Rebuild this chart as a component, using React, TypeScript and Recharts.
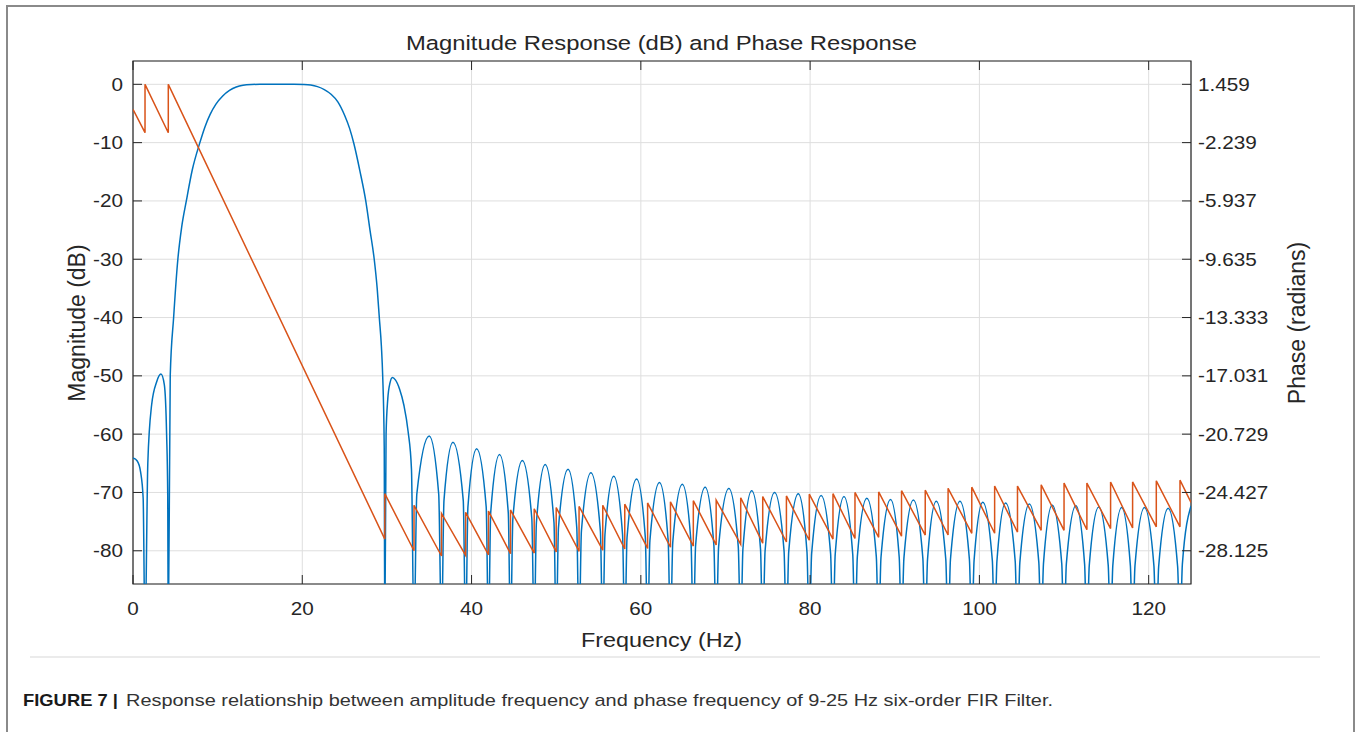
import { LineChart, Line, XAxis, YAxis, CartesianGrid, ReferenceArea } from "recharts";

// frequency axis (Hz)
const freqTicks = [0, 20, 40, 60, 80, 100, 120];
// magnitude axis (dB)
const magTicks = [-80, -70, -60, -50, -40, -30, -20, -10, 0];
// phase axis (radians), lined up with the dB grid
const phaseTicks = [1.459, -2.239, -5.937, -9.635, -13.333, -17.031, -20.729, -24.427, -28.125];

// [Hz, dB]; nulls go below the axis and get clipped
const magnitude: [number, number][] = [
  [0, -64.1], [0.5, -64.6], [0.9, -66.5], [1.2, -71], [1.42, -95],
  [1.75, -65], [2.2, -55], [2.8, -51], [3.3, -49.7], [3.7, -51.5], [3.97, -60], [4.1, -70], [4.17, -95],
  [4.4, -50], [4.8, -40], [5.3, -30], [5.75, -24.5], [6.3, -20], [7.0, -14.7], [7.9, -10], [8.5, -7.3],
  [9.1, -5.2], [9.8, -3.4], [10.6, -2.0], [11.4, -1.05], [12.2, -0.45], [13.0, -0.15], [14.0, -0.03],
  [15, 0], [17, 0], [19, 0], [20.2, -0.03], [21.0, -0.12], [21.8, -0.4], [22.6, -0.9], [23.4, -1.7],
  [24.2, -3.0], [25.0, -5.3], [25.6, -7.6], [26.1, -10.2], [26.8, -14.8], [27.5, -20], [28.0, -25],
  [28.5, -30], [28.85, -35], [29.1, -40], [29.35, -45], [29.5, -50], [29.68, -62], [29.75, -95],
  [29.9, -60], [30.1, -54], [30.35, -51.3], [30.65, -50.3], [31.0, -50.7], [31.5, -52.3], [32.0, -55], [32.5, -59.5], [32.9, -66], [33.2, -95],
  [33.53, -70.3], [35.0, -60.3], [36.12, -70.3], [36.45, -95],
  [36.74, -71.4], [37.8, -61.4], [39.02, -71.4], [39.3, -95],
  [39.57, -72.5], [40.6, -62.5], [41.73, -72.5], [42.0, -95],
  [42.26, -73.5], [43.3, -63.5], [44.34, -73.5], [44.6, -95],
  [44.88, -74.5], [46.0, -64.5], [47.12, -74.5], [47.4, -95],
  [47.66, -75.2], [48.7, -65.2], [49.74, -75.2], [50.0, -95],
  [50.27, -76.0], [51.4, -66.0], [52.43, -76.0], [52.7, -95],
  [52.98, -76.6], [54.1, -66.6], [55.22, -76.6], [55.5, -95],
  [55.76, -77.2], [56.8, -67.2], [57.84, -77.2], [58.1, -95],
  [58.37, -77.7], [59.5, -67.7], [60.53, -77.7], [60.8, -95],
  [61.07, -78.3], [62.2, -68.3], [63.23, -78.3], [63.5, -95],
  [63.77, -78.6], [64.9, -68.6], [65.93, -78.6], [66.2, -95],
  [66.47, -79.1], [67.6, -69.1], [68.63, -79.1], [68.9, -95],
  [69.19, -79.3], [70.4, -69.3], [71.51, -79.3], [71.8, -95],
  [72.06, -79.7], [73.1, -69.7], [74.14, -79.7], [74.4, -95],
  [74.68, -80.0], [75.8, -70.0], [76.92, -80.0], [77.2, -95],
  [77.47, -80.2], [78.6, -70.2], [79.63, -80.2], [79.9, -95],
  [80.18, -80.5], [81.3, -70.5], [82.42, -80.5], [82.7, -95],
  [82.96, -80.7], [84.0, -70.7], [85.04, -80.7], [85.3, -95],
  [85.58, -81.0], [86.7, -71.0], [87.82, -81.0], [88.1, -95],
  [88.37, -81.2], [89.5, -71.2], [90.53, -81.2], [90.8, -95],
  [91.08, -81.3], [92.2, -71.3], [93.32, -81.3], [93.6, -95],
  [93.87, -81.5], [94.9, -71.5], [96.03, -81.5], [96.3, -95],
  [96.58, -81.5], [97.7, -71.5], [98.82, -81.5], [99.1, -95],
  [99.37, -81.7], [100.4, -71.7], [101.53, -81.7], [101.8, -95],
  [102.07, -81.8], [103.1, -71.8], [104.23, -81.8], [104.5, -95],
  [104.78, -82.0], [105.9, -72.0], [107.02, -82.0], [107.3, -95],
  [107.57, -82.2], [108.6, -72.2], [109.73, -82.2], [110.0, -95],
  [110.27, -82.3], [111.4, -72.3], [112.43, -82.3], [112.7, -95],
  [112.98, -82.5], [114.1, -72.5], [115.22, -82.5], [115.5, -95],
  [115.76, -82.6], [116.8, -72.6], [117.84, -82.6], [118.1, -95],
  [118.38, -82.6], [119.5, -72.6], [120.62, -82.6], [120.9, -95],
  [121.18, -82.7], [122.3, -72.7], [123.42, -82.7], [123.7, -95],
  [123.98, -82.3], [125, -72.3],
];

// [Hz, rad] for the orange phase line, jumps are two points at one frequency
const phase: [number, number][] = [
  [0, -0.131], [1.42, -1.61], [1.42, 1.459], [4.17, -1.61], [4.17, 1.459],
  [29.75, -27.385], [29.75, -24.501], [33.2, -28.125], [33.2, -25.241],
  [36.45, -28.458], [36.45, -25.758], [39.3, -28.421], [39.3, -25.684],
  [42.0, -28.384], [42.0, -25.61], [44.6, -28.31], [44.6, -25.536],
  [47.4, -28.273], [47.4, -25.462], [50.0, -28.199], [50.0, -25.388],
  [52.7, -28.162], [52.7, -25.315], [55.5, -28.088], [55.5, -25.241],
  [58.1, -28.014], [58.1, -25.167], [60.8, -27.977], [60.8, -25.093],
  [63.5, -27.903], [63.5, -25.019], [66.2, -27.829], [66.2, -24.945],
  [68.9, -27.755], [68.9, -24.908], [71.8, -27.718], [71.8, -24.76],
  [74.4, -27.644], [74.4, -24.686], [77.2, -27.57], [77.2, -24.649],
  [79.9, -27.459], [79.9, -24.538], [82.7, -27.385], [82.7, -24.501],
  [85.3, -27.348], [85.3, -24.427], [88.1, -27.274], [88.1, -24.39],
  [90.8, -27.201], [90.8, -24.316], [93.6, -27.127], [93.6, -24.279],
  [96.3, -27.127], [96.3, -24.168], [99.1, -27.016], [99.1, -24.094],
  [101.8, -27.016], [101.8, -24.02], [104.5, -26.942], [104.5, -24.02],
  [107.3, -26.831], [107.3, -23.946], [110.0, -26.831], [110.0, -23.835],
  [112.7, -26.794], [112.7, -23.835], [115.5, -26.72], [115.5, -23.761],
  [118.1, -26.683], [118.1, -23.761], [120.9, -26.609], [120.9, -23.687],
  [123.7, -26.609], [123.7, -23.65], [125, -25.056],
];

const magData = magnitude.map(([f, db]) => ({ f, db }));
const phaseData = phase.map(([f, rad]) => ({ f, rad }));

const PLOT = { left: 133, right: 1191, top: 61, bottom: 584 };
const INK = "#262626";
const FONT = "'Liberation Sans', Arial, Helvetica, sans-serif";

const XTick = (props: any) => {
  const { x, payload } = props;
  return (
    <g>
      <line x1={x} x2={x} y1={PLOT.bottom} y2={PLOT.bottom - 9} stroke={INK} />
      <line x1={x} x2={x} y1={PLOT.top} y2={PLOT.top + 9} stroke={INK} />
      <text
        transform={`translate(${x},615) scale(1.15,1)`}
        textAnchor="middle"
        fontSize={18}
        fontFamily={FONT}
        fill={INK}
      >
        {payload.value}
      </text>
    </g>
  );
};

const LeftTick = (props: any) => {
  const { y, payload } = props;
  return (
    <g>
      <line x1={PLOT.left} x2={PLOT.left + 9} y1={y} y2={y} stroke={INK} />
      <text
        transform={`translate(123,${y + 6.5}) scale(1.15,1)`}
        textAnchor="end"
        fontSize={18}
        fontFamily={FONT}
        fill={INK}
      >
        {payload.value}
      </text>
    </g>
  );
};

const RightTick = (props: any) => {
  const { y, payload } = props;
  return (
    <g>
      <line x1={PLOT.right} x2={PLOT.right - 9} y1={y} y2={y} stroke={INK} />
      <text
        transform={`translate(1198,${y + 6.5}) scale(1.15,1)`}
        textAnchor="start"
        fontSize={18}
        fontFamily={FONT}
        fill={INK}
      >
        {payload.value.toFixed(3)}
      </text>
    </g>
  );
};

export default function App() {
  return (
    <div
      style={{
        position: "fixed",
        left: 0,
        top: 0,
        width: 1362,
        height: 732,
        background: "#fff",
        overflow: "hidden",
      }}
    >
      <div
        style={{
          position: "absolute",
          left: 6,
          top: 5,
          width: 1345,
          height: 900,
          border: "2px solid #8a8a8a",
        }}
      />

      <div style={{ position: "absolute", left: 0, top: 0 }}>
        <LineChart
          width={1362}
          height={660}
          margin={{ top: 61, right: 111, bottom: 46, left: 73 }}
        >
          <CartesianGrid stroke="#dedede" strokeWidth={1} />
          <XAxis
            type="number"
            dataKey="f"
            domain={[0, 125]}
            ticks={freqTicks}
            interval={0}
            allowDataOverflow
            height={30}
            axisLine={false}
            tickLine={false}
            tick={XTick}
          />
          <YAxis
            type="number"
            domain={[-85.7, 4]}
            ticks={magTicks}
            interval={0}
            allowDataOverflow
            width={60}
            axisLine={false}
            tickLine={false}
            tick={LeftTick}
          />
          <YAxis
            yAxisId="phase"
            orientation="right"
            type="number"
            domain={[-30.233, 2.938]}
            ticks={phaseTicks}
            interval={0}
            allowDataOverflow
            width={60}
            axisLine={false}
            tickLine={false}
            tick={RightTick}
          />
          <Line
            data={magData}
            dataKey="db"
            type="monotone"
            stroke="#0072BD"
            strokeWidth={1.5}
            dot={false}
            activeDot={false}
            isAnimationActive={false}
          />
          <Line
            data={phaseData}
            dataKey="rad"
            yAxisId="phase"
            type="linear"
            stroke="#D95319"
            strokeWidth={1.5}
            dot={false}
            activeDot={false}
            isAnimationActive={false}
          />
          <ReferenceArea
            x1={0}
            x2={125}
            y1={-85.7}
            y2={4}
            fill="none"
            stroke={INK}
            strokeWidth={1.2}
          />
        </LineChart>
      </div>

      <svg
        width={1362}
        height={732}
        style={{ position: "absolute", left: 0, top: 0, pointerEvents: "none" }}
      >
        <text
          x={661.5}
          y={49.5}
          textAnchor="middle"
          fontSize={20.5}
          fontFamily={FONT}
          fill={INK}
          textLength={511}
          lengthAdjust="spacingAndGlyphs"
        >
          Magnitude Response (dB) and Phase Response
        </text>
        <text
          x={661.5}
          y={647}
          textAnchor="middle"
          fontSize={20.5}
          fontFamily={FONT}
          fill={INK}
          textLength={161}
          lengthAdjust="spacingAndGlyphs"
        >
          Frequency (Hz)
        </text>
        <text
          transform="translate(85,323) rotate(-90)"
          textAnchor="middle"
          fontSize={23}
          fontFamily={FONT}
          fill={INK}
        >
          Magnitude (dB)
        </text>
        <text
          transform="translate(1305,323) rotate(-90)"
          textAnchor="middle"
          fontSize={23}
          fontFamily={FONT}
          fill={INK}
        >
          Phase (radians)
        </text>

        <line x1={30} x2={1320} y1={657} y2={657} stroke="#ebebeb" strokeWidth={2} />

        <text
          x={23}
          y={706}
          fontSize={17}
          fontWeight="bold"
          fontFamily="'Liberation Sans Narrow', 'Liberation Sans', Arial, sans-serif"
          fill="#1a1a1a"
          textLength={95}
          lengthAdjust="spacingAndGlyphs"
        >
          FIGURE 7 |
        </text>
        <text
          x={126}
          y={706}
          fontSize={17}
          fontFamily="'Liberation Sans Narrow', 'Liberation Sans', Arial, sans-serif"
          fill="#333"
          textLength={927}
          lengthAdjust="spacingAndGlyphs"
        >
          Response relationship between amplitude frequency and phase frequency of 9-25 Hz six-order FIR Filter.
        </text>
      </svg>
    </div>
  );
}
